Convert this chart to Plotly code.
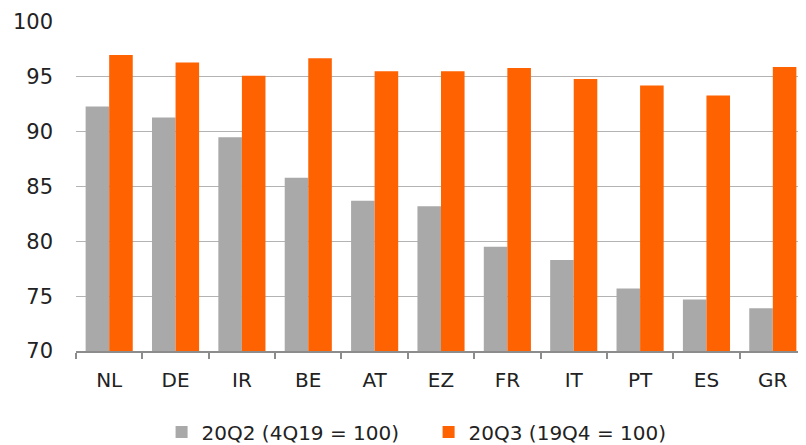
import plotly.graph_objects as go

countries = ["NL", "DE", "IR", "BE", "AT", "EZ", "FR", "IT", "PT", "ES", "GR"]
q2_values = [92.3, 91.3, 89.5, 85.8, 83.7, 83.2, 79.5, 78.3, 75.7, 74.7, 73.9]
q3_values = [97.0, 96.3, 95.1, 96.7, 95.5, 95.5, 95.8, 94.8, 94.2, 93.3, 95.9]

fig = go.Figure()
fig.add_trace(go.Bar(x=countries, y=q2_values, name="20Q2 (4Q19 = 100)",
                     marker=dict(color="#a9a9a9", line=dict(width=0))))
fig.add_trace(go.Bar(x=countries, y=q3_values, name="20Q3 (19Q4 = 100)",
                     marker=dict(color="#ff6200", line=dict(width=0))))

# page body adds an 8px margin, so the figure is a bit smaller than the window
fig.update_layout(
    width=798, height=437,
    margin=dict(l=68, r=0, t=14, b=94, autoexpand=False),
    plot_bgcolor="white", paper_bgcolor="white",
    barmode="group", bargap=0.29, bargroupgap=0,
    font=dict(family="DejaVu Sans", size=20, color="#222222"),
    legend=dict(orientation="h", x=0.483, xanchor="center",
                yref="container", y=0.03, yanchor="middle",
                font=dict(size=20), itemwidth=30, traceorder="normal",
                entrywidth=222, entrywidthmode="pixels"),
)
fig.update_yaxes(range=[70, 100], dtick=5, showgrid=True, gridcolor="#b3b3b3", gridwidth=1.3,
                 zeroline=False, showline=False, ticks="", ticklabelstandoff=22,
                 tickfont=dict(size=21), automargin=False)
fig.update_xaxes(showline=True, linecolor="#8c8c8c", linewidth=1.5, ticks="outside",
                 tickson="boundaries", ticklen=6, tickcolor="#8c8c8c", tickwidth=1.5,
                 ticklabelstandoff=10, tickfont=dict(size=20), automargin=False)

fig.write_html("out.html")
